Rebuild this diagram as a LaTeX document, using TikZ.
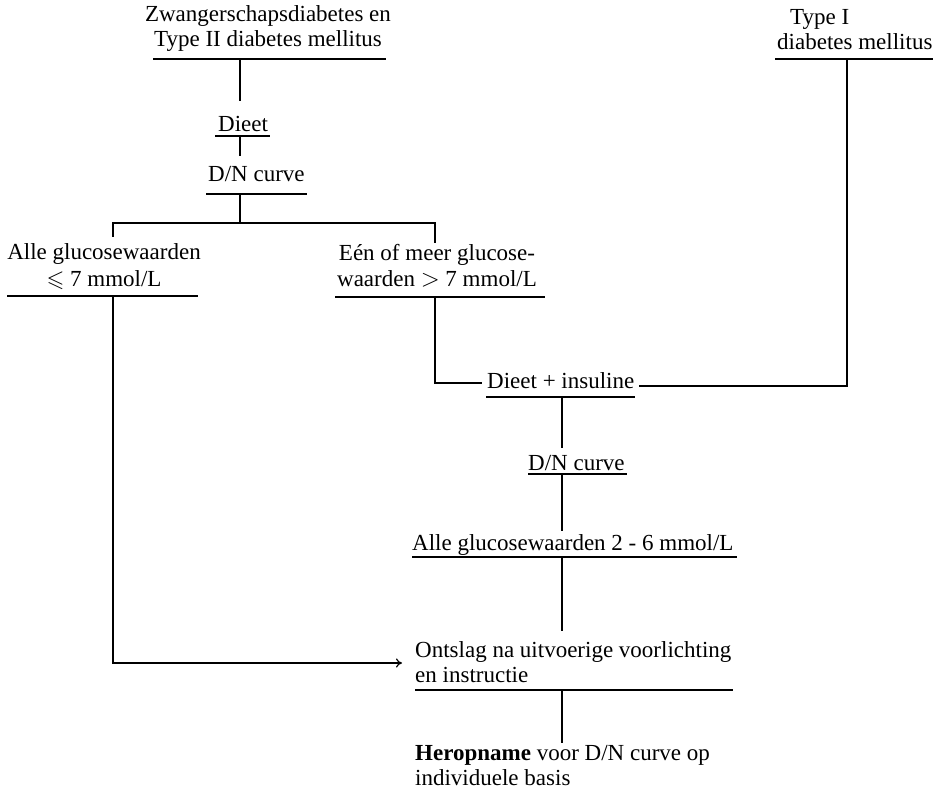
\documentclass[tikz,border=0pt]{standalone}
\usepackage{fontspec}
\setmainfont{Liberation Serif}
\usepackage{amssymb}
\usetikzlibrary{arrows.meta}
\newcommand\chartfont{\fontsize{23}{25}\selectfont}
\begin{document}
\begin{tikzpicture}[x=1pt,y=-1pt,
  txt/.style={font=\chartfont, inner sep=0pt},
  link/.style={line width=1.2pt, line cap=rect},
  rule/.style={line width=1.2pt},
  arrowlink/.style={link, -{To[length=6pt,width=9pt]}}]
\useasboundingbox (0,0) rectangle (939,794);

% ---- text blocks (placed by the baseline of their last line) ----
\node[txt, anchor=base] (zw) at (268,47)
  {\begin{tabular}[b]{@{}c@{}}Zwangerschapsdiabetes en\\Type II diabetes mellitus\end{tabular}};
\node[txt, anchor=base west] (typeI) at (777,50)
  {\begin{tabular}[b]{@{}l@{}}\hspace*{13pt}Type I\\diabetes mellitus\end{tabular}};
\node[txt, anchor=base west] (dieet) at (218,132) {Dieet};
\node[txt, anchor=base west] (dn1) at (208,182) {D/N curve};
\node[txt, anchor=base] (alle) at (104,286)
  {\begin{tabular}[b]{@{}c@{}}Alle glucosewaarden\\[1pt]$\leqslant$ 7 mmol/L\end{tabular}};
\node[txt, anchor=base] (een) at (437,286)
  {\begin{tabular}[b]{@{}c@{}}Eén of meer glucose-\\waarden $>$ 7 mmol/L\end{tabular}};
\node[txt, anchor=base west] (dins) at (487,388) {Dieet + insuline};
\node[txt, anchor=base west] (dn2) at (528,470) {D/N curve};
\node[txt, anchor=base west] (alle2) at (412,550) {Alle glucosewaarden 2 - 6 mmol/L};
\node[txt, anchor=base west] (ontslag) at (415,682)
  {\begin{tabular}[b]{@{}l@{}}Ontslag na uitvoerige voorlichting\\en instructie\end{tabular}};
\node[txt, anchor=base west] (herop) at (415,785)
  {\begin{tabular}[b]{@{}l@{}}\textbf{Heropname} voor D/N curve op\\individuele basis\end{tabular}};

% ---- underlines ----
\draw[rule] (153,59) -- (386,59);
\draw[rule] (775,59) -- (933,59);
\draw[rule] (215,136) -- (270,136);
\draw[rule] (206,194) -- (307,194);
\draw[rule] (7,296) -- (198,296);
\draw[rule] (335,297) -- (545,297);
\draw[rule] (486,397) -- (635,397);
\draw[rule] (528,474) -- (627,474);
\draw[rule] (412,557) -- (737,557);
\draw[rule] (415,690) -- (733,690);

% ---- junction points ----
\coordinate (zwU)    at (240,59);
\coordinate (dieetT) at (240,100);
\coordinate (dieetU) at (240,136);
\coordinate (dn1T)   at (240,155);
\coordinate (dn1U)   at (240,194);
\coordinate (split)  at (240,223);
\coordinate (alleT)  at (113,236);
\coordinate (eenT)   at (435,242);
\coordinate (alleU)  at (113,296);
\coordinate (eenU)   at (435,297);
\coordinate (dinsL)  at (481,383);
\coordinate (dinsR)  at (640,386);
\coordinate (typeIU) at (847,59);
\coordinate (dinsU)  at (562,397);
\coordinate (dn2T)   at (562,447);
\coordinate (dn2U)   at (562,474);
\coordinate (alle2T) at (562,530);
\coordinate (alle2U) at (562,557);
\coordinate (ontT)   at (562,630);
\coordinate (ontU)   at (562,690);
\coordinate (herT)   at (562,742);
\coordinate (ontL)   at (402,663);

% ---- connectors ----
\draw[link] (zwU) -- (dieetT);
\draw[link] (dieetU) -- (dn1T);
\draw[link] (dn1U) -- (split);
\draw[link] (alleT) |- (split) -| (eenT);
\draw[arrowlink] (alleU) |- (ontL);
\draw[link] (eenU) |- (dinsL);
\draw[link] (typeIU) |- (dinsR);
\draw[link] (dinsU) -- (dn2T);
\draw[link] (dn2U) -- (alle2T);
\draw[link] (alle2U) -- (ontT);
\draw[link] (ontU) -- (herT);
\end{tikzpicture}
\end{document}
